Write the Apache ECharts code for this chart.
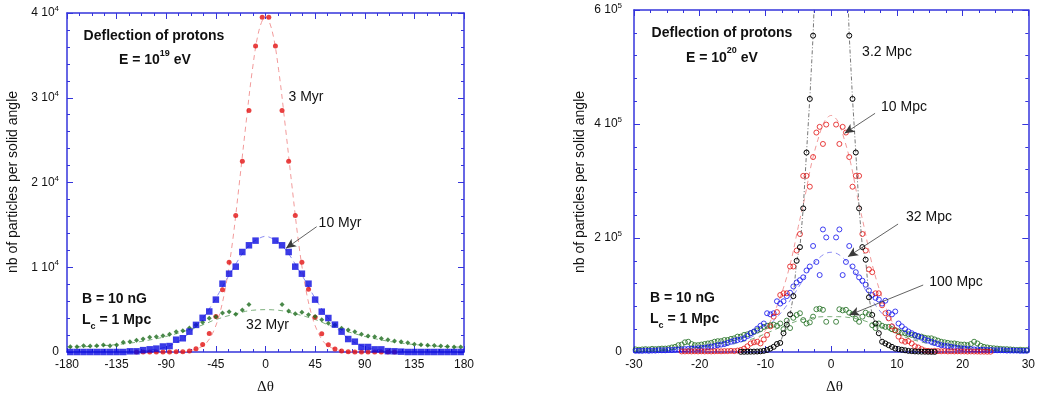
<!DOCTYPE html>
<html><head><meta charset="utf-8">
<script src="https://cdn.jsdelivr.net/npm/echarts@6/dist/echarts.min.js"></script>
<style>html,body{margin:0;padding:0;background:#fff}#c{width:1038px;height:398px}</style>
</head><body><div id="c"></div><script>
// ---------- LEFT PANEL (E = 1e19 eV) ----------
const leftX = [-177,-171,-165,-159,-153,-147,-141,-135,-129,-123,-117,-111,-105,-99,-93,-87,-81,-75,-69,-63,-57,-51,-45,-39,-33,-27,-21,-15,-9,-3,3,9,15,21,27,33,39,45,51,57,63,69,75,81,87,93,99,105,111,117,123,129,135,141,147,153,159,165,171,177];
const red3Myr = [null,null,null,null,null,null,null,null,null,null,
  0,0,0,0,0,0,20,40,120,390,
  880,2180,4200,7350,10600,16100,22500,28500,36100,39500,
  39500,36100,28500,22500,16100,10600,7400,4100,2160,870,
  350,120,40,10,0,0,0,0,0,0,
  null,null,null,null,null,null,null,null,null,null];
const blue10Myr = [0,0,0,0,0,0,0,0,0,
  80,80,220,315,400,650,700,1450,1620,2400,3200,4030,4780,6180,8060,9240,10070,11800,12590,13140,null,
  null,13140,12590,11800,10070,9240,8060,6180,4760,4010,3230,2400,1530,1220,590,590,310,310,100,80,40,
  0,0,0,0,0,0,0,0,0];
const green32Myr = [630,630,750,710,750,830,750,830,1140,1220,1380,1530,1730,1810,1930,2080,2400,2520,2830,3180,3500,3970,4170,4600,4750,4450,4950,5600,null,null,
  null,null,5600,4850,4500,4700,4400,4200,3800,3400,3200,2800,2600,2400,2100,1900,1800,1600,1450,1300,1200,1100,900,850,800,780,700,650,600,600];
const leftFitX = [-180,-150,-120,-96,-84,-72,-60,-54,-48,-42,-36,-30,-24,-18,-12,-6,0,6,12,18,24,30,36,42,48,54,60,72,84,96,120,150,180];
const fitRed3Myr = [null,null,null,null,10,60,500,1000,2200,4300,7800,12900,19600,26600,33200,37900,39600,37900,33200,26600,19600,12900,7800,4300,2200,1000,500,60,10,null,null,null,null];
const fitBlue10Myr = [null,null,40,400,900,1900,3500,4500,5700,7000,8400,9700,11000,12100,12900,13400,13650,13400,12900,12100,11000,9700,8400,7000,5700,4500,3500,1900,900,400,40,null,null];
const fitGreen32Myr = [560,720,1100,1650,2050,2500,3050,3350,3700,3950,4200,4400,4600,4800,4920,4980,5000,4980,4920,4800,4600,4400,4200,3950,3700,3350,3050,2500,2050,1650,1100,720,560];
const leftYTickText = ['0','1 10^4','2 10^4','3 10^4','4 10^4'];

// ---------- RIGHT PANEL (E = 1e20 eV) ----------
const rightX = [
-29.75,-29.25,-28.75,-28.25,-27.75,-27.25,-26.75,-26.25,-25.75,-25.25,
-24.75,-24.25,-23.75,-23.25,-22.75,-22.25,-21.75,-21.25,-20.75,-20.25,
-19.75,-19.25,-18.75,-18.25,-17.75,-17.25,-16.75,-16.25,-15.75,-15.25,
-14.75,-14.25,-13.75,-13.25,-12.75,-12.25,-11.75,-11.25,-10.75,-10.25,
-9.75,-9.25,-8.75,-8.25,-7.75,-7.25,-6.75,-6.25,-5.75,-5.25,
-4.75,-4.25,-3.75,-3.25,-2.75,-2.25,-1.75,-1.25,-0.75,-0.25,
0.25,0.75,1.25,1.75,2.25,2.75,3.25,3.75,4.25,4.75,
5.25,5.75,6.25,6.75,7.25,7.75,8.25,8.75,9.25,9.75,
10.25,10.75,11.25,11.75,12.25,12.75,13.25,13.75,14.25,14.75,
15.25,15.75,16.25,16.75,17.25,17.75,18.25,18.75,19.25,19.75,
20.25,20.75,21.25,21.75,22.25,22.75,23.25,23.75,24.25,24.75,
25.25,25.75,26.25,26.75,27.25,27.75,28.25,28.75,29.25,29.75];
const black3p2Mpc = [
null,null,null,null,null,null,null,null,null,null,
null,null,null,null,null,null,null,null,null,null,
null,null,null,null,null,null,null,null,null,null,
null,null,300,400,500,600,700,900,1200,2000,
3500,6000,9000,14000,16000,33000,48000,66000,98000,160000,
184000,252000,350000,444000,555000,720000,null,null,null,null,
null,null,null,null,720000,555000,444000,350000,252000,184000,
162000,96000,65000,50000,33000,18000,15000,12000,9000,6000,
5000,4000,3000,2000,1500,1000,800,600,500,400,
300,200,null,null,null,null,null,null,null,null,
null,null,null,null,null,null,null,null,null,null,
null,null,null,null,null,null,null,null,null,null];
const red10Mpc = [
null,null,null,null,null,null,null,null,null,null,
null,null,null,null,1000,1000,1200,1000,1200,1000,
1200,1000,1200,1000,1200,1500,1200,1500,1500,2000,
1500,2500,3500,6000,10000,15000,17000,18000,15000,22000,
30000,45000,62000,70000,100000,103000,103000,150000,150000,178000,
207000,309000,309000,290000,342000,385000,395000,365000,399000,null,
null,399000,365000,395000,385000,342000,290000,309000,309000,207000,
178000,145000,140000,103000,103000,82000,68000,59000,45000,38000,
27000,20000,18000,19000,15000,10000,8000,5000,2500,2000,
1500,2000,1500,1200,1500,1000,1200,1000,1200,1000,
1000,800,1000,800,800,600,600,500,500,null,
null,null,null,null,null,null,null,null,null,null];
const blue32Mpc = [
2000,2000,2000,2500,2000,2500,2500,3000,3000,3000,
3500,3500,4000,4500,4500,5000,5500,6000,6000,6500,
7000,7500,8500,9500,10500,12000,13000,14000,16000,18000,
20000,21000,22000,24000,28000,33000,36000,41000,46000,50000,
68000,66000,68000,89000,85000,89000,98000,104000,115000,122000,
126000,131000,143000,150000,186000,158000,135000,215000,201000,null,
null,201000,215000,135000,158000,186000,150000,140000,131000,125000,
118000,108000,100000,95000,92000,85000,90000,69000,66000,71000,
50000,45000,40000,36000,33000,30000,28000,25000,22000,20000,
18000,16000,14000,12000,11000,10000,9000,8000,7000,6500,
6000,5500,5000,4500,4500,4000,4000,3500,3500,3000,
3000,3000,3000,2500,2500,2500,2500,2000,2000,2000];
const green100Mpc = [
4500,4000,4500,5000,4500,5500,5000,5500,6000,6000,
6500,8000,9000,12000,13000,17000,18000,14000,12000,12000,
13000,14000,15000,16000,18000,19000,19000,21000,21000,23000,
24000,27000,27000,30000,31000,33000,35000,38000,40000,44000,
46000,47000,48000,46000,50000,40000,55000,42000,60000,65000,
68000,56000,50000,52000,62000,75000,76000,74000,53000,null,
null,53000,75000,73000,74000,69000,66000,58000,53000,62000,
69000,66000,47000,42000,50000,46000,44000,44000,40000,38000,
36000,34000,33000,31000,30000,29000,27000,27000,25000,24000,
24000,22000,20000,18000,17000,16000,15000,15000,14000,13000,
13000,12000,14000,18000,15000,11000,9000,8000,7000,6500,
6000,5500,5000,5000,4500,4000,3500,4000,3500,3500];
const rightFitX = [-30,-25,-20,-16,-14,-12,-10,-9,-8,-7,-6,-5,-4,-3,-2,-1,0,1,2,3,4,5,6,7,8,9,10,12,14,16,20,25,30];
const fitRed10Mpc = [null,null,null,null,null,12000,38000,60000,88000,122000,165000,220000,272000,330000,373000,405000,415000,405000,373000,330000,272000,220000,165000,122000,88000,60000,38000,12000,null,null,null,null,null];
const fitBlue32Mpc = [1000,2500,6000,11000,17000,27000,42000,52000,64000,78000,95000,113000,132000,150000,163000,172000,175000,172000,163000,150000,132000,113000,95000,78000,64000,52000,42000,27000,17000,11000,6000,2500,1000];
const fitGreen100Mpc = [3000,4500,8000,13000,17000,23000,32000,37000,42000,47000,51000,55000,58000,60000,61500,62000,62000,62000,61500,60000,58000,55000,51000,47000,42000,37000,32000,23000,17000,13000,8000,4500,3000];
const rightYTickText = ['0','2 10^5','4 10^5','6 10^5'];

// ---------- helpers ----------
const FONT = 'Liberation Sans, Arial, Helvetica, sans-serif';
const AX = '#3434dc';
const pairs = (xs, ys, keepNull) => {
  const out = [];
  xs.forEach((x, i) => { const y = ys[i]; if (y == null) { if (keepNull) out.push([x, null]); } else out.push([x, y]); });
  return out;
};
const supFmt = (list, step) => v => {
  const s = list[Math.round(v / step)];
  if (s == null) return '';
  const p = s.split('^');
  return p.length > 1 ? '{m|' + p[0] + '}{e|' + p[1] + '}' : '{m|' + p[0] + '}';
};
const labRich = {
  m: { fontSize: 12, fontFamily: FONT, color: '#111', lineHeight: 16 },
  e: { fontSize: 8, fontFamily: FONT, color: '#111', lineHeight: 8, verticalAlign: 'top' }
};
function xAx(grid, min, max, interval, pos, show) {
  return {
    gridIndex: grid, type: 'value', min, max, interval, position: pos,
    axisLine: { show: true, onZero: false, lineStyle: { color: AX, width: 1.5 } },
    axisTick: { show: true, inside: true, length: 6, lineStyle: { color: AX, width: 1 } },
    minorTick: { show: true, splitNumber: 4, length: 3, lineStyle: { color: AX, width: 1 } },
    splitLine: { show: false }, minorSplitLine: { show: false },
    axisLabel: { show: show, color: '#111', fontSize: 12, fontFamily: FONT, margin: 7, showMinLabel: true, showMaxLabel: true }
  };
}
function yAx(grid, min, max, interval, pos, show, labels, margin) {
  return {
    gridIndex: grid, type: 'value', min, max, interval, position: pos,
    axisLine: { show: true, onZero: false, lineStyle: { color: AX, width: 1.5 } },
    axisTick: { show: true, inside: true, length: 6, lineStyle: { color: AX, width: 1 } },
    minorTick: { show: true, splitNumber: 5, length: 3, lineStyle: { color: AX, width: 1 } },
    splitLine: { show: false }, minorSplitLine: { show: false },
    axisLabel: { show: show, margin: margin, formatter: labels ? supFmt(labels, interval) : null, rich: labRich, showMinLabel: true, showMaxLabel: true }
  };
}
function fit(xi, yi, xs, ys, color, extra) {
  return Object.assign({
    type: 'line', xAxisIndex: xi, yAxisIndex: yi, data: pairs(xs, ys, true),
    smooth: 0.35, showSymbol: false, symbol: 'none', connectNulls: false, clip: true, silent: true,
    lineStyle: { color: color, width: 1, type: [5, 4] }, z: 2
  }, extra || {});
}
function dots(xi, yi, xs, ys, symbol, size, color, hollow) {
  return {
    type: 'scatter', xAxisIndex: xi, yAxisIndex: yi, data: pairs(xs, ys, false),
    symbol: symbol, symbolSize: size, clip: true, silent: true, z: 3,
    itemStyle: hollow ? { color: 'rgba(0,0,0,0)', borderColor: color, borderWidth: 1 } : { color: color }
  };
}
function arrow(from, to) {
  return {
    silent: true, symbol: ['none', 'arrow'], symbolSize: [7, 10], animation: false, z: 10,
    label: { show: false }, lineStyle: { color: '#3a3a3a', width: 0.8, type: 'solid', opacity: 1 },
    emphasis: { disabled: true },
    data: [[{ coord: from }, { coord: to }]]
  };
}
function txt(x, y, text, o) {
  return { type: 'text', x: x, y: y, silent: true, z: 100,
    style: Object.assign({ text: text, fill: '#111', fontFamily: FONT, fontSize: 14,
      align: 'left', textAlign: 'left', verticalAlign: 'middle', textVerticalAlign: 'middle' }, o || {}) };
}
const boldRich = {
  b: { fontSize: 14, fontWeight: 'bold', fontFamily: FONT, fill: '#111', color: '#111', lineHeight: 23 },
  s: { fontSize: 9, fontWeight: 'bold', fontFamily: FONT, fill: '#111', color: '#111', lineHeight: 9, verticalAlign: 'top', textVerticalAlign: 'top' },
  u: { fontSize: 9, fontWeight: 'bold', fontFamily: FONT, fill: '#111', color: '#111', lineHeight: 9, verticalAlign: 'bottom', textVerticalAlign: 'bottom' }
};
const C = { center: { align: 'center', textAlign: 'center' } };
const SERIF = 'Liberation Serif, DejaVu Serif, serif';

const chart = echarts.init(document.getElementById('c'), null, { renderer: 'canvas' });
chart.setOption({
  animation: false,
  backgroundColor: '#fff',
  grid: [
    { left: 67, top: 13, width: 397, height: 339 },
    { left: 634, top: 10, width: 401, height: 342 }
  ],
  xAxis: [
    xAx(0, -180, 180, 45, 'bottom', true),
    xAx(0, -180, 180, 45, 'top', false),
    xAx(1, -30, 30, 10, 'bottom', true),
    xAx(1, -30, 30, 10, 'top', false)
  ],
  yAxis: [
    yAx(0, 0, 40000, 10000, 'left', true, leftYTickText, 8),
    yAx(0, 0, 40000, 10000, 'right', false, null, 8),
    yAx(1, 0, 600000, 200000, 'left', true, rightYTickText, 12),
    yAx(1, 0, 600000, 200000, 'right', false, null, 8)
  ],
  series: [
    fit(0, 0, leftFitX, fitRed3Myr, '#f29a9a'),
    fit(0, 0, leftFitX, fitBlue10Myr, '#8c8cf2', { markLine: arrow([46.4, 14785], [18.6, 12236]) }),
    fit(0, 0, leftFitX, fitGreen32Myr, '#7db07d'),
    dots(0, 0, leftX, red3Myr, 'circle', 5, '#e21212', false),
    dots(0, 0, leftX, green32Myr, 'diamond', 5, '#1d6b1d', false),
    dots(0, 0, leftX, blue10Myr, 'rect', 6.5, '#0a0ae0', false),

    fit(2, 2, rightFitX, fitRed10Mpc, '#f29a9a', { markLine: arrow([6.68, 418700], [2.04, 383600]) }),
    fit(2, 2, rightFitX, fitBlue32Mpc, '#8c8cf2', { markLine: arrow([10.18, 224500], [2.55, 167200]) }),
    fit(2, 2, rightFitX, fitGreen100Mpc, '#7db07d', { markLine: arrow([14.0, 117500], [2.79, 64900]) }),
    dots(2, 2, rightX, green100Mpc, 'circle', 5, '#1d6b1d', true),
    dots(2, 2, rightX, blue32Mpc, 'circle', 5, '#1010ee', true),
    dots(2, 2, rightX, red10Mpc, 'circle', 5, '#e21212', true),
    {
      type: 'line', xAxisIndex: 2, yAxisIndex: 2, data: pairs(rightX, black3p2Mpc, true),
      connectNulls: false, clip: true, silent: true, showSymbol: true, symbol: 'circle', symbolSize: 5, z: 4,
      itemStyle: { color: 'rgba(0,0,0,0)', borderColor: '#000', borderWidth: 1 },
      lineStyle: { color: '#555', width: 0.8, type: [4, 2, 1, 2] }
    }
  ],
  graphic: [
    txt(13, 182, 'nb of particles per solid angle', Object.assign({}, C.center)),
    txt(580, 182, 'nb of particles per solid angle', Object.assign({}, C.center)),
    txt(265.5, 387, 'Δθ', Object.assign({ fontFamily: SERIF, fontSize: 15 }, C.center)),
    txt(834.5, 387, 'Δθ', Object.assign({ fontFamily: SERIF, fontSize: 15 }, C.center)),
    // left panel annotations
    txt(154, 36, 'Deflection of protons', Object.assign({ fontWeight: 'bold' }, C.center)),
    txt(119, 60.5, '{b|E = 10}{s|19}{b| eV}', { rich: boldRich }),
    txt(306, 97.5, '3 Myr', C.center),
    txt(340, 223, '10 Myr', C.center),
    txt(267.5, 325, '32 Myr', C.center),
    txt(82, 299, 'B = 10 nG', { fontWeight: 'bold' }),
    txt(82, 320, '{b|L}{u|c}{b| = 1 Mpc}', { rich: boldRich }),
    // right panel annotations
    txt(722, 33, 'Deflection of protons', Object.assign({ fontWeight: 'bold' }, C.center)),
    txt(686, 58, '{b|E = 10}{s|20}{b| eV}', { rich: boldRich }),
    txt(887, 52, '3.2 Mpc', C.center),
    txt(904, 107, '10 Mpc', C.center),
    txt(929, 217, '32 Mpc', C.center),
    txt(956, 282, '100 Mpc', C.center),
    txt(650, 298, 'B = 10 nG', { fontWeight: 'bold' }),
    txt(650, 319, '{b|L}{u|c}{b| = 1 Mpc}', { rich: boldRich })
  ]
});
</script>
<script>
(function(){
  const ch = echarts.getInstanceByDom(document.getElementById('c'));
  const g = ch.getOption().graphic[0].elements;
  ch.setOption({ graphic: [{ id: g[0].id, rotation: Math.PI / 2 }, { id: g[1].id, rotation: Math.PI / 2 }] });
})();
</script>
</body></html>
